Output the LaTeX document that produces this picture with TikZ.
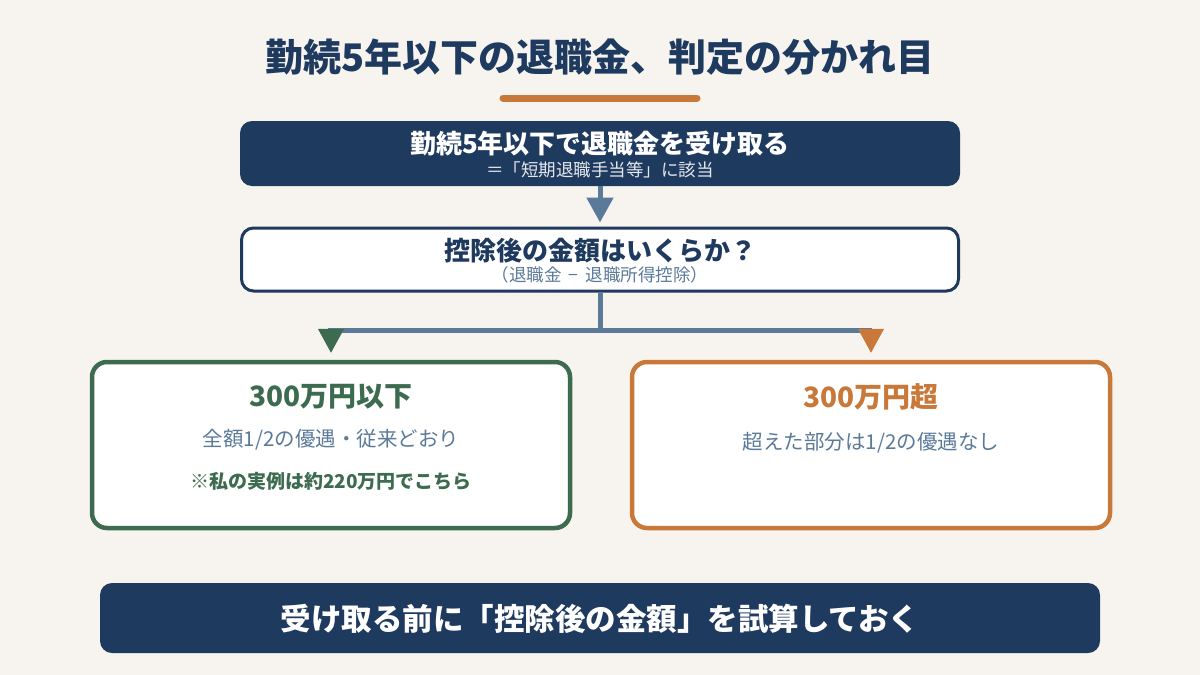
\documentclass[tikz,border=0pt]{standalone}
\usepackage{fontspec}
\setmainfont{Noto Sans CJK JP}
\usetikzlibrary{arrows.meta}
\definecolor{bg}{HTML}{F7F4EF}
\definecolor{navy}{HTML}{1F3A5F}
\definecolor{slate}{HTML}{5B7A9A}
\definecolor{grn}{HTML}{3D6B4F}
\definecolor{org}{HTML}{C8793A}
\newcommand{\fs}[1]{\fontsize{#1}{#1}\selectfont}
\tikzset{
  txt/.style={inner sep=0pt, anchor=center},
  darkbox/.style={fill=navy, rounded corners=12pt, inner sep=0pt},
  whitebox/.style={fill=white, draw=navy, line width=3pt, rounded corners=12pt, inner sep=0pt},
  resbox/.style={fill=white, line width=4.5pt, rounded corners=15pt, inner sep=0pt, minimum width=478pt, minimum height=166pt},
  conn/.style={draw=slate, line width=5pt},
  tip/.style={line width=1pt, -{Triangle[width=26pt,length=24pt]}},
}
\begin{document}
\begin{tikzpicture}[x=1pt,y=-1pt]
\fill[bg] (0,0) rectangle (1200,675);
\useasboundingbox (0,0) rectangle (1200,675);

% title
\node[txt, text=navy] (title) at (600,57) {\fs{38}\bfseries 勤続5年以下の退職金、判定の分かれ目};
\coordinate (ul1) at (503,98);
\coordinate (ul2) at (697,98);
\draw[org, line width=7pt, line cap=round] (ul1) -- (ul2);

% top box
\node[darkbox, minimum width=720pt, minimum height=65pt] (top) at (600,153.5) {};
\node[txt, text=white] (topt) at (600,144) {\fs{26}\bfseries 勤続5年以下で退職金を受け取る};
\node[txt, text=white!88!navy] (tops) at (600,170) {\fs{17.5}＝「短期退職手当等」に該当};

% middle box
\node[whitebox, minimum width=717pt, minimum height=63pt] (mid) at (600,259.5) {};
\node[txt, text=navy] (midt) at (600,251) {\fs{26}\bfseries 控除後の金額はいくらか？};
\node[txt, text=slate] (mids) at (600,275) {\fs{17.5}（退職金\hspace{0.4em}−\hspace{0.4em}退職所得控除）};

% result boxes
\node[resbox, draw=grn] (left) at (331,445) {};
\node[txt, text=grn] (leftt) at (331,397) {\fs{28}\bfseries 300万円以下};
\node[txt, text=slate] (lefts) at (331,440) {\fs{20.5}全額1/2の優遇・従来どおり};
\node[txt, text=grn] (leftn) at (331,481) {\fs{19}\bfseries ※私の実例は約220万円でこちら};

\node[resbox, draw=org] (right) at (871,445) {};
\node[txt, text=org] (rightt) at (871,397) {\fs{28}\bfseries 300万円超};
\node[txt, text=slate] (rights) at (871,443) {\fs{20.5}超えた部分は1/2の優遇なし};

% bottom bar
\node[darkbox, minimum width=1000pt, minimum height=70pt] (bottom) at (600,618) {};
\node[txt, text=white] (bott) at (600,619) {\fs{30.5}\bfseries 受け取る前に「控除後の金額」を試算しておく};

% connectors
\draw[conn, -{Triangle[width=26pt,length=25pt]}, shorten >=4pt] (top.south) -- (mid.north);
\coordinate (j) at (600,330);
\coordinate (jl) at (328,330);
\coordinate (jr) at (872,330);
\draw[conn] (mid.south) -- (j);
\draw[conn] (jl) -- (jr);
\coordinate (tl) at (331,331);
\coordinate (tr) at (871,331);
\draw[grn, tip, shorten >=7pt] (tl) -- (tl |- left.north);
\draw[org, tip, shorten >=7pt] (tr) -- (tr |- right.north);
\end{tikzpicture}
\end{document}
